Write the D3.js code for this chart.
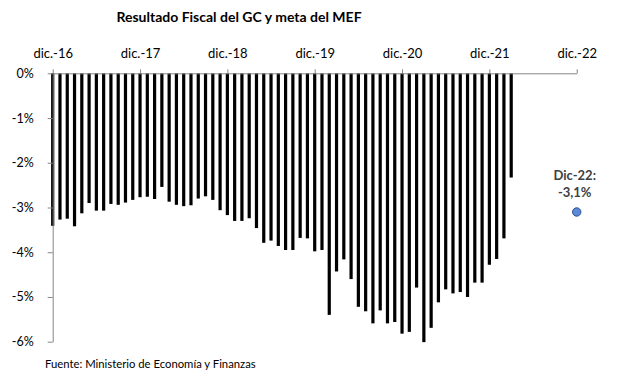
<!DOCTYPE html>
<html><head><meta charset="utf-8">
<script src="https://cdn.jsdelivr.net/npm/d3@7"></script>
<style>body{margin:0;background:#fff}svg{display:block}text{font-family:Lato,"Open Sans",sans-serif}</style>
</head><body><svg id="c" width="617" height="383"></svg>
<script>
// Monthly fiscal result (% of GDP), Dec 2016 .. Mar 2022
const startMonth = "2016-12";
const values = [
 -3.41,-3.27,-3.25,-3.42,-3.13,-2.90,-3.07,-3.07,-2.92,-2.94,-2.89,-2.83,
 -2.77,-2.76,-2.81,-2.54,-2.87,-2.94,-2.97,-2.95,-2.80,-2.75,-2.83,-3.06,
 -3.17,-3.30,-3.30,-3.24,-3.46,-3.79,-3.74,-3.86,-3.95,-3.95,-3.68,-3.69,
 -3.98,-3.95,-5.40,-4.43,-4.16,-4.60,-5.22,-5.32,-5.59,-5.30,-5.59,-5.56,
 -5.82,-5.78,-4.79,-6.01,-5.69,-5.12,-4.83,-4.92,-4.89,-5.00,-4.68,-4.68,
 -4.28,-4.15,-3.69,-2.33
];
const xTickLabels = ["dic.-16","dic.-17","dic.-18","dic.-19","dic.-20","dic.-21","dic.-22"];
const yTicks = [0,-1,-2,-3,-4,-5,-6];
const target = {label1:"Dic-22:", label2:"-3,1%", month:72, value:-3.1};
const title = "Resultado Fiscal del GC y meta del MEF";
const source = "Fuente: Ministerio de Economía y Finanzas";

const svg = d3.select("#c");
const x = d3.scaleLinear().domain([0,72]).range([52.7,576.7]);
const y = d3.scaleLinear().domain([0,-6]).range([73.3,341.7]);

svg.append("text").attr("x",239).attr("y",22).attr("text-anchor","middle")
  .attr("font-weight","bold").attr("font-size",14).attr("fill","#000").text(title);

// bars
svg.append("g").selectAll("rect").data(values).join("rect")
  .attr("x",(d,i)=>x(i)-1.6).attr("width",3.2)
  .attr("y",y(0)).attr("height",d=>y(d)-y(0)).attr("fill","#000");

// top x axis
const xa = svg.append("g").attr("transform",`translate(0,${y(0)})`)
  .call(d3.axisTop(x).tickValues(d3.range(0,73,12)).tickSize(4).tickSizeOuter(0)
    .tickFormat((d,i)=>xTickLabels[i]));
xa.select(".domain").attr("stroke","#868686");
xa.selectAll(".tick line").attr("stroke","#868686");
xa.selectAll(".tick text").attr("font-size",13).attr("fill","#000").attr("font-family","Lato")
  .attr("dy",-8);

// y axis
const ya = svg.append("g").attr("transform",`translate(${x(0)},0)`)
  .call(d3.axisLeft(y).tickValues(yTicks).tickSize(5).tickSizeOuter(0)
    .tickFormat(d=>d+"%"));
ya.select(".domain").attr("stroke","#868686");
ya.selectAll(".tick line").attr("stroke","#868686");
ya.selectAll(".tick text").attr("font-size",12.5).attr("fill","#000").attr("font-family","Lato")
  .attr("x",-19);

// target point
svg.append("circle").attr("cx",x(target.month)).attr("cy",y(target.value)).attr("r",4.2)
  .attr("fill","#5B8BD6").attr("stroke","#2F4F8F").attr("stroke-width",1);
svg.append("text").attr("x",x(target.month)-2).attr("y",180).attr("text-anchor","middle")
  .attr("font-weight","bold").attr("font-size",13).attr("fill","#404040").text(target.label1);
svg.append("text").attr("x",x(target.month)-2).attr("y",197).attr("text-anchor","middle")
  .attr("font-weight","bold").attr("font-size",13).attr("fill","#404040").text(target.label2);

svg.append("text").attr("x",45).attr("y",368).attr("font-size",11.3).attr("fill","#000").text(source);
</script></body></html>
